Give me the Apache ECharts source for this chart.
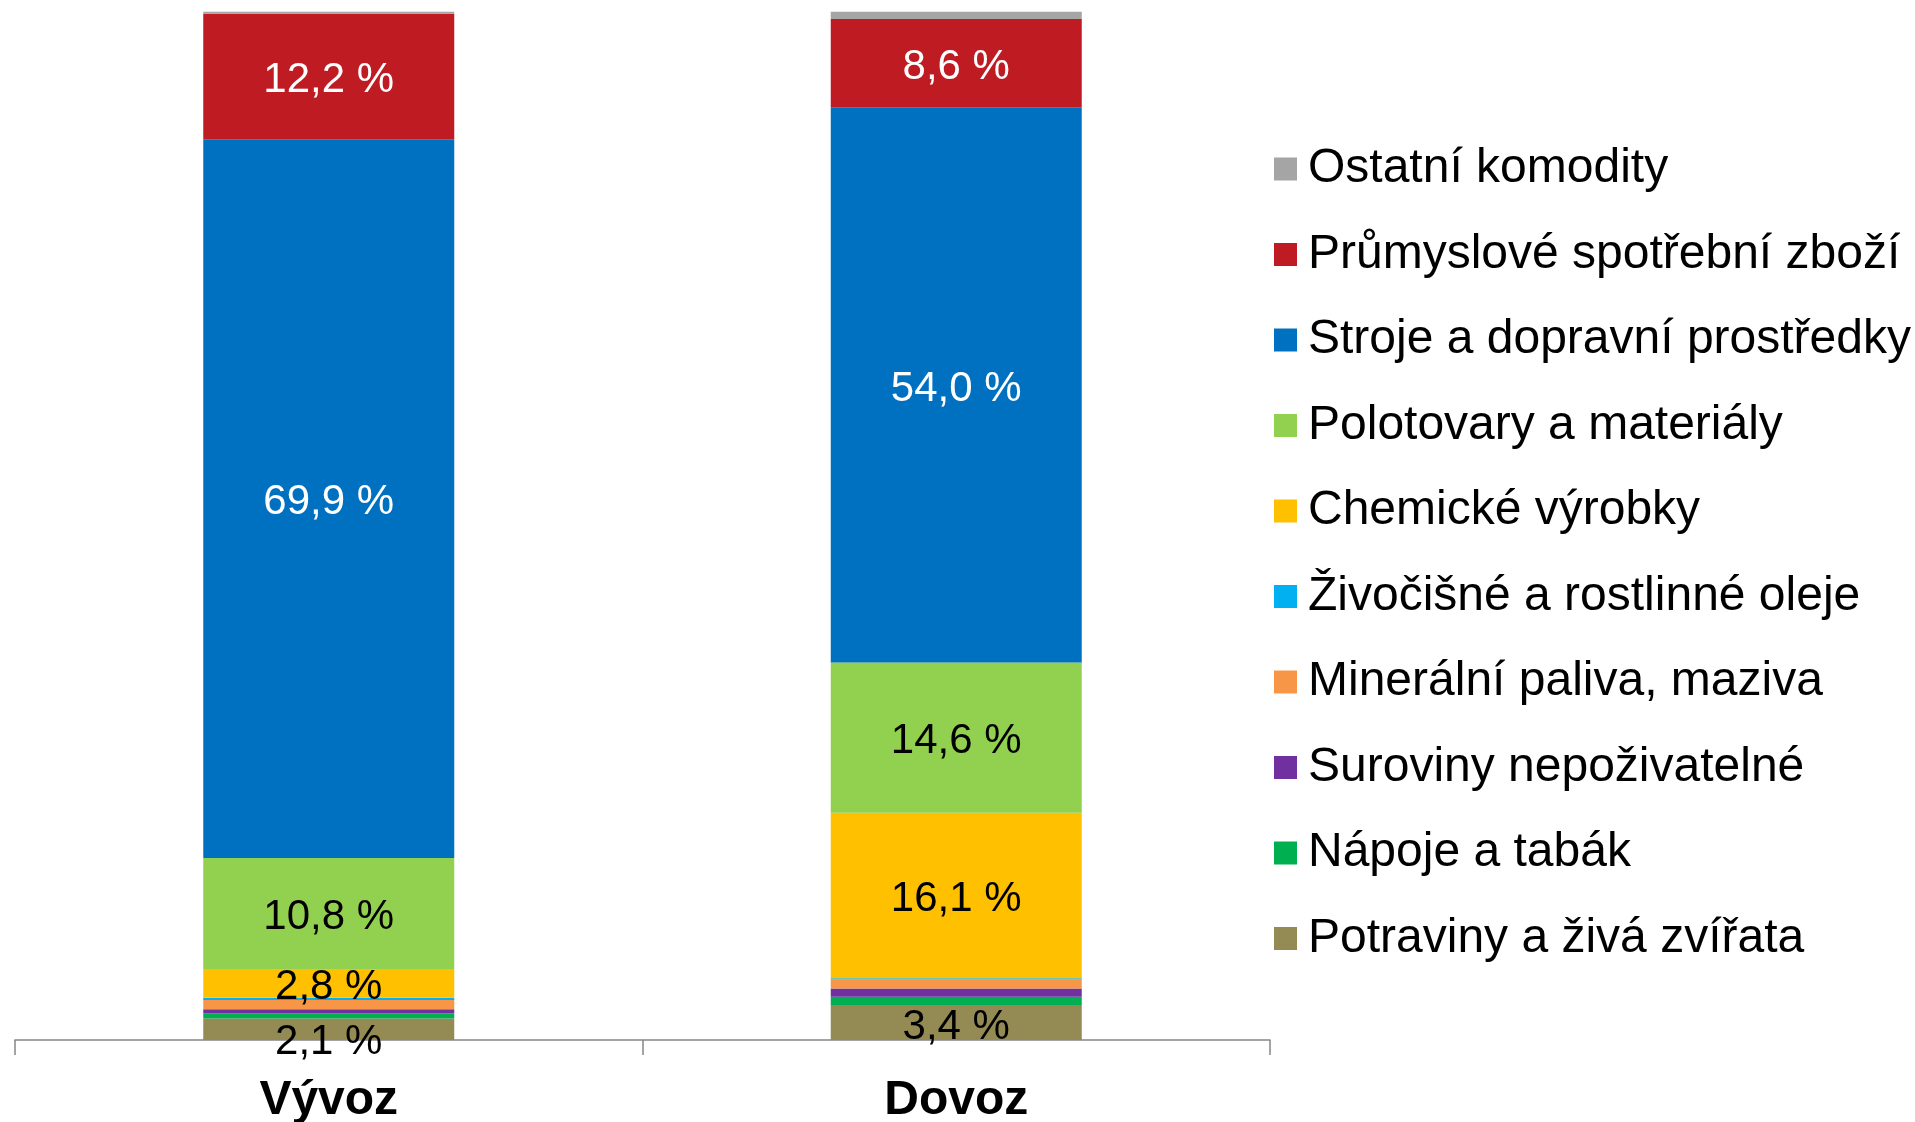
<!DOCTYPE html>
<html>
<head>
<meta charset="utf-8">
<script src="https://cdn.jsdelivr.net/npm/echarts@6/dist/echarts.min.js"></script>
<style>
	html, body { margin: 0; padding: 0; background: #fff; }
	#chart { width: 1915px; height: 1122px; }
</style>
</head>
<body>
<div id="chart"></div>
<script>
	// kategorie na ose x
	var categories = ["Vývoz", "Dovoz"];

	// řady odspodu nahoru (podíl v %)
	var names = [
		"Potraviny a živá zvířata",
		"Nápoje a tabák",
		"Suroviny nepoživatelné",
		"Minerální paliva, maziva",
		"Živočišné a rostlinné oleje",
		"Chemické výrobky",
		"Polotovary a materiály",
		"Stroje a dopravní prostředky",
		"Průmyslové spotřební zboží",
		"Ostatní komodity"
	];
	var vyvoz = [2.1, 0.5, 0.4, 0.9, 0.2, 2.8, 10.8, 69.9, 12.2, 0.2];
	var dovoz = [3.4, 0.8, 0.8, 0.9, 0.1, 16.1, 14.6, 54.0, 8.6, 0.7];

	var colors = ["#948A54", "#00B050", "#7030A0", "#F79646", "#00B0F0",
		"#FFC000", "#92D050", "#0070C0", "#BE1B22", "#A5A5A5"];
	// které řady mají popisek a jakou barvou
	var showLabel = [true, false, false, false, false, true, true, true, true, false];
	var labelColor = ["#000", "#000", "#000", "#000", "#000", "#000", "#000", "#fff", "#fff", "#000"];

	var font = "'Liberation Sans', Arial, sans-serif";

	function fmt(p) {
		return p.value.toFixed(1).replace(".", ",") + " %";
	}

	var series = [];
	for (let i = 0; i < names.length; i++) {
		let data = [vyvoz[i], dovoz[i]];
		if (i === 0) {
			// spodní popisky jsou v originále trochu posunuté dolů
			data = [
				{ value: vyvoz[i], label: { offset: [0, 13] } },
				{ value: dovoz[i], label: { offset: [0, 5] } }
			];
		}
		series.push({
			name: names[i],
			type: 'bar',
			stack: 'total',
			barWidth: '40%',
			itemStyle: { color: colors[i] },
			label: {
				show: showLabel[i],
				position: 'inside',
				offset: [0, 4],
				formatter: fmt,
				color: labelColor[i],
				fontFamily: font,
				fontSize: 42
			},
			emphasis: { disabled: true },
			data: data
		});
	}

	var option = {
		animation: false,
		grid: {
			left: 15,
			right: 645,
			top: 11.7,
			bottom: 82,
			outerBoundsMode: 'none'
		},
		legend: {
			orient: 'vertical',
			left: 1269,
			top: 140,
			itemWidth: 23,
			itemHeight: 23,
			itemGap: 37.5,
			icon: 'rect',
			data: names.slice().reverse(),
			textStyle: {
				fontFamily: font,
				fontSize: 48,
				lineHeight: 46,
				color: '#000',
				padding: [0, 0, 0, 6]
			}
		},
		xAxis: [{
			type: 'category',
			data: categories,
			axisLine: { lineStyle: { color: '#868686', width: 1.5 } },
			axisTick: {
				show: true,
				alignWithLabel: false,
				length: 15,
				lineStyle: { color: '#868686', width: 1.5 }
			},
			axisLabel: {
				margin: 37,
				color: '#000',
				fontFamily: font,
				fontSize: 48,
				fontWeight: 'bold'
			}
		}],
		yAxis: [{
			type: 'value',
			min: 0,
			max: 100,
			show: false
		}],
		series: series
	};

	var myChart = echarts.init(document.getElementById('chart'));
	myChart.setOption(option);
</script>
</body>
</html>
